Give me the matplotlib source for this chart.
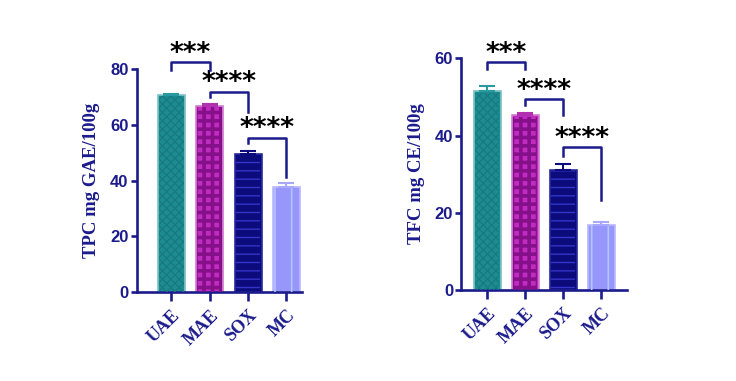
import matplotlib.pyplot as plt
import numpy as np

groups = ["UAE", "MAE", "SOX", "MC"]
tpc = [70.6, 66.6, 49.6, 37.8]
tpc_err = [0.3, 0.8, 1.0, 1.3]
tfc = [51.4, 45.2, 31.0, 16.9]
tfc_err = [1.5, 0.6, 1.5, 0.6]

# significance: (left bar, right bar, top, left leg end, right leg end, stars)
tpc_sig = [(0, 1, 82.5, 79.5, 79.5, "***"),
           (1, 2, 71.8, 69.8, 64.6, "****"),
           (2, 3, 55.4, 53.4, 41.4, "****")]
tfc_sig = [(0, 1, 59.0, 57.3, 57.3, "***"),
           (1, 2, 49.4, 47.8, 45.3, "****"),
           (2, 3, 37.0, 34.6, 23.3, "****")]

fills = ["#1d8b92", "#c02cc0", "#0b0b7c", "#9696fb"]
hatch_cols = ["#17787e", "#86108a", "#3434c8", "#b4c4ff"]
hatches = ["xxxx", "++", "--", "|"]
hatch_lw = [0.8, 2.6, 1.0, 1.2]
edges = ["#7cc4c6", "#d07cd0", "#2a2aa0", "#b8b8ff"]
err_cols = ["#2a9aa0", "#b030b0", "#0b0b7c", "#a8a8ff"]
navy = "#1b1b8c"


def draw(ax, vals, errs, sig, ymax, step, ylabel, xlim):
    x = np.arange(len(groups))
    ax.bar(x, vals, width=0.7, color=fills, edgecolor=edges, linewidth=1.2, zorder=2)
    for i in range(len(groups)):
        with plt.rc_context({"hatch.linewidth": hatch_lw[i]}):
            ax.bar(x[i], vals[i] - 0.3, width=0.64, fill=False, hatch=hatches[i],
                   edgecolor=hatch_cols[i], linewidth=0, zorder=3)
        ax.errorbar(x[i], vals[i], yerr=[[0], [errs[i]]], color=err_cols[i],
                    capsize=6, elinewidth=1.5, capthick=1.5, zorder=4)
    for a, b, top, la, lb, stars in sig:
        ax.plot([a, a, b, b], [la, top, top, lb], color=navy, lw=1.8,
                clip_on=False, zorder=5)
        ax.annotate(stars, xy=((a + b) / 2, top), xytext=(0, 1),
                    textcoords="offset points", ha="center", va="baseline",
                    fontsize=19, fontweight="semibold", color="black",
                    annotation_clip=False)

    ax.set_ylim(0, ymax)
    ax.set_xlim(*xlim)
    ax.set_yticks(np.arange(0, ymax + 1, step))
    ax.set_xticks(x)
    ax.set_xticklabels(groups, rotation=45, ha="right", rotation_mode="anchor",
                       family="Liberation Serif", fontweight="bold", fontsize=13,
                       color=navy)
    for lab in ax.get_yticklabels():
        lab.set_fontweight("bold")
        lab.set_family("Liberation Sans")
        lab.set_fontsize(12)
        lab.set_color(navy)
    ax.set_ylabel(ylabel, family="Liberation Serif", fontweight="bold",
                  fontsize=13.5, color=navy, labelpad=7)
    for s in ["top", "right"]:
        ax.spines[s].set_visible(False)
    for s in ["left", "bottom"]:
        ax.spines[s].set_color(navy)
        ax.spines[s].set_linewidth(1.9)
    ax.tick_params(axis="both", colors=navy, width=1.9)
    ax.tick_params(axis="y", length=4, pad=2)
    ax.tick_params(axis="x", length=6.5, pad=4)


fig = plt.figure(figsize=(7.36, 3.81), dpi=100)
ax1 = fig.add_axes([0.186, 0.233, 0.224, 0.586])
ax2 = fig.add_axes([0.627, 0.239, 0.225, 0.608])

draw(ax1, tpc, tpc_err, tpc_sig, 80, 20, "TPC mg GAE/100g", (-0.9, 3.4))
draw(ax2, tfc, tfc_err, tfc_sig, 60, 20, "TFC mg CE/100g", (-0.68, 3.68))

fig.savefig("out.png", dpi=100)
